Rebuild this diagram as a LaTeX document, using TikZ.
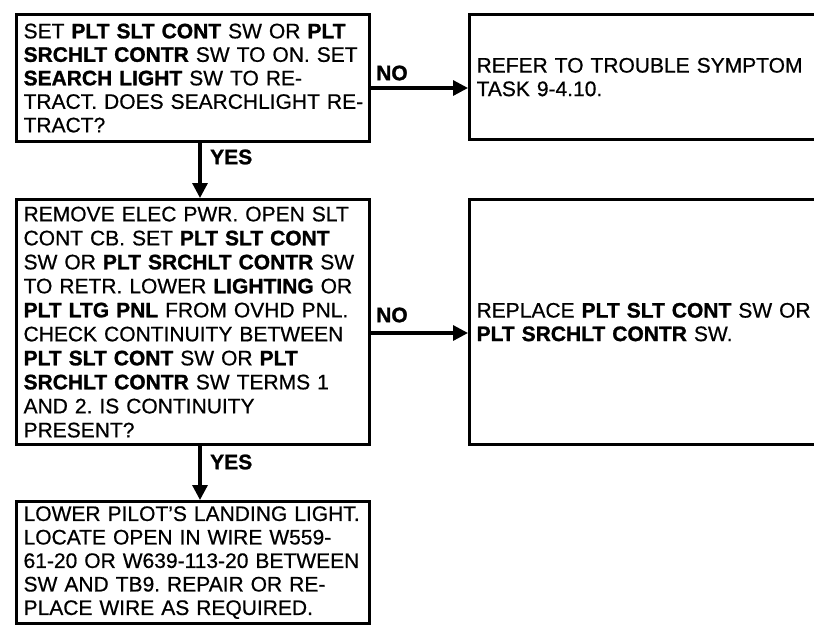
\documentclass[tikz,border=0pt]{standalone}
\usepackage{fontspec}
\setmainfont{Liberation Sans}[UprightFeatures={FakeBold=0.6},BoldFeatures={FakeBold=1.2}]
\usetikzlibrary{arrows.meta}
\begin{document}
\frenchspacing
\begin{tikzpicture}[x=1pt,y=-1pt,
  box/.style={draw, line width=3.2pt, rectangle, anchor=north west, align=left,
    inner xsep=7pt, inner ysep=2pt, font=\fontsize{21}{23.5}\selectfont},
  arr/.style={line width=3.2pt, -{Triangle[length=15pt,width=15pt]}},
  lbl/.style={font=\fontsize{21}{23}\selectfont\bfseries, inner sep=0pt, anchor=west}]
\useasboundingbox (0,0) rectangle (814,625);
\clip (0,0) rectangle (814,625);

\node[box, text width=339pt, minimum height=127pt] (b1) at (15,13)
 {\mbox{SET \textbf{PLT SLT CONT} SW OR \textbf{PLT}}\\
  \mbox{\textbf{SRCHLT CONTR} SW TO ON. SET}\\
  \mbox{\textbf{SEARCH LIGHT} SW TO RE-}\\
  \mbox{TRACT. DOES SEARCHLIGHT RE-}\\
  \mbox{TRACT?}};

\node[box, text width=339pt, minimum height=245pt, font=\fontsize{21}{24}\selectfont] (b2) at (15,198)
 {\mbox{REMOVE ELEC PWR. OPEN SLT}\\
  \mbox{CONT CB. SET \textbf{PLT SLT CONT}}\\
  \mbox{SW OR \textbf{PLT SRCHLT CONTR} SW}\\
  \mbox{TO RETR. LOWER \textbf{LIGHTING} OR}\\
  \mbox{\textbf{PLT LTG PNL} FROM OVHD PNL.}\\
  \mbox{CHECK CONTINUITY BETWEEN}\\
  \mbox{\textbf{PLT SLT CONT} SW OR \textbf{PLT}}\\
  \mbox{\textbf{SRCHLT CONTR} SW TERMS 1}\\
  \mbox{AND 2. IS CONTINUITY}\\
  \mbox{PRESENT?}};

\node[box, text width=339pt, minimum height=122pt] (b3) at (15,500)
 {\mbox{LOWER PILOT’S LANDING LIGHT.}\\
  \mbox{LOCATE OPEN IN WIRE W559-}\\
  \mbox{61-20 OR W639-113-20 BETWEEN}\\
  \mbox{SW AND TB9. REPAIR OR RE-}\\
  \mbox{PLACE WIRE AS REQUIRED.}};

\node[box, text width=348pt, minimum height=125pt] (r1) at (468,13)
 {\mbox{REFER TO TROUBLE SYMPTOM}\\
  \mbox{TASK 9-4.10.}};

\node[box, text width=348pt, minimum height=245pt] (r2) at (468,198)
 {\mbox{REPLACE \textbf{PLT SLT CONT} SW OR}\\
  \mbox{\textbf{PLT SRCHLT CONTR} SW.}};

\coordinate (ax) at (200,0);
\coordinate (na) at (0,88);
\coordinate (nb) at (0,333);

\draw[arr] (b1.south -| ax) -- (b2.north -| ax);
\draw[arr] (b2.south -| ax) -- (b3.north -| ax);
\draw[arr] (b1.east |- na) -- (r1.west |- na);
\draw[arr] (b2.east |- nb) -- (r2.west |- nb);

\node[lbl] (yes1) at (210,157) {YES};
\node[lbl] (yes2) at (210,462) {YES};
\node[lbl] (no1) at (376,73) {NO};
\node[lbl] (no2) at (376,315) {NO};
\end{tikzpicture}
\end{document}
